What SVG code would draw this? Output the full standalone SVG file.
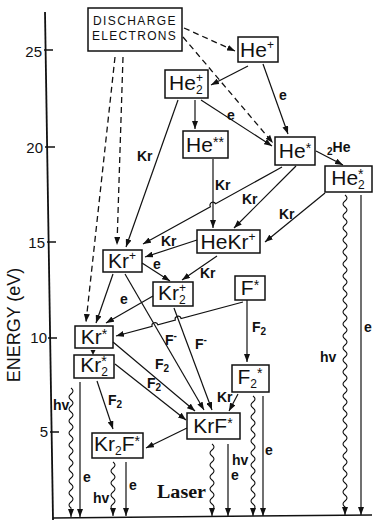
<svg xmlns="http://www.w3.org/2000/svg" width="375" height="520" viewBox="0 0 375 520">
<style>
.bx{fill:none;stroke:#111;stroke-width:1.5}
.n{font-family:"Liberation Sans",Arial,sans-serif;font-size:21px;fill:#111;text-anchor:middle}
.s{font-size:12px}
.a{font-size:14px}
.l{font-family:"Liberation Sans",Arial,sans-serif;font-size:14px;font-weight:bold;fill:#111}
.t{font-family:"Liberation Sans",Arial,sans-serif;font-size:15px;fill:#111;text-anchor:end}
.c{fill:none;stroke:#111;stroke-width:1.2;marker-end:url(#ah)}
.d{fill:none;stroke:#111;stroke-width:1.3;stroke-dasharray:6 4;marker-end:url(#ah)}
.w{fill:none;stroke:#111;stroke-width:1.1;marker-end:url(#ah)}
</style>
<defs>
<marker id="ah" markerUnits="userSpaceOnUse" markerWidth="8" markerHeight="6" refX="8" refY="3" orient="auto">
<path d="M0,0 L8,3 L0,6 z" fill="#111"/>
</marker>
</defs>

<g id="axis">
<path d="M45,12 L53,520" stroke="#111" stroke-width="1.8" fill="none"/>
<path d="M53,518 L372,515" stroke="#111" stroke-width="1.5" fill="none"/>
<path d="M44,50 H53 M45,147 H55 M47,242 H56 M48,338 H57 M50,432 H59" stroke="#111" stroke-width="1.5"/>
<text class="t" x="42" y="57">25</text>
<text class="t" x="43" y="153">20</text>
<text class="t" x="45" y="248">15</text>
<text class="t" x="47" y="343">10</text>
<text class="t" x="48" y="437">5</text>
<text font-family="Liberation Sans,Arial,sans-serif" font-size="18" fill="#111" text-anchor="middle" transform="translate(20,325) rotate(-90)">ENERGY (eV)</text>
</g>

<g id="connectors">
<path class="d" d="M184,28 L235,51"/>
<path class="d" d="M183,37 L273,143"/>
<path class="d" d="M115,57 L86,322"/>
<path class="d" d="M123,57 L117,245"/>
<path class="c" d="M248,66 L211,85"/>
<path class="c" d="M263,64 L288,134"/>
<path class="c" d="M195,100 L195,129"/>
<path class="c" d="M201,100 L272,146"/>
<path class="c" d="M316,151 L343,165"/>
<path class="c" d="M178,100 L126,247"/>
<path class="c" d="M213,159 L213,228"/>
<path class="c" d="M282,167 L215.6,203.7 A3,3 0 0 0 210.4,206.7 L143,244"/>
<path class="c" d="M296,166 L234,228"/>
<path class="c" d="M325,193 L265,242"/>
<path class="c" d="M197,240 L145,257"/>
<path class="c" d="M217,256 L182,280"/>
<path class="c" d="M142,263 L170,281"/>
<path class="c" d="M113,274 L96,323"/>
<path class="c" d="M153,296 L106,323"/>
<path class="c" d="M243,302 L181.1,318.5 A3,3 0 0 0 175.3,320.1 L157.9,324.8 A3,3 0 0 0 152.1,326.4 L116,336"/>
<path class="c" d="M125,274 L204,410"/>
<path class="c" d="M174,308 L212,410"/>
<path class="c" d="M113,342 L195,411"/>
<path class="c" d="M115,364 L186,420"/>
<path d="M90.5,350 L95.5,350 L93,355 z" fill="#111"/>
<path class="c" d="M97,381 L113,429"/>
<path class="c" d="M187,428 L146,448"/>
<path class="c" d="M247,300 L247,362"/>
<path class="c" d="M238,394 L229,411"/>
<path class="w" d="M71,388 q4,3 0,6 t0,6 t0,6 t0,6 t0,6 t0,6 t0,6 t0,6 t0,6 t0,6 t0,6 t0,6 t0,6 t0,6 t0,6 t0,6 t0,6 t0,6 t0,6 t0,6 v9"/>
<path class="c" d="M80,382 L80,517"/>
<path class="w" d="M113,462 q4,3 0,6 t0,6 t0,6 t0,6 t0,6 t0,6 t0,6 t0,6 v6"/>
<path class="c" d="M126,462 L126,516"/>
<path class="w" d="M212,444 q4,3 0,6 t0,6 t0,6 t0,6 t0,6 t0,6 t0,6 t0,6 t0,6 t0,6 t0,6 v6"/>
<path class="c" d="M228,444 L228,516"/>
<path class="w" d="M253,396 q4,3 0,6 t0,6 t0,6 t0,6 t0,6 t0,6 t0,6 t0,6 t0,6 t0,6 t0,6 t0,6 t0,6 t0,6 t0,6 t0,6 t0,6 t0,6 t0,6 v6"/>
<path class="c" d="M263,396 L263,516"/>
<path class="w" d="M345,195 q4,3 0,6 t0,6 t0,6 t0,6 t0,6 t0,6 t0,6 t0,6 t0,6 t0,6 t0,6 t0,6 t0,6 t0,6 t0,6 t0,6 t0,6 t0,6 t0,6 t0,6 t0,6 t0,6 t0,6 t0,6 t0,6 t0,6 t0,6 t0,6 t0,6 t0,6 t0,6 t0,6 t0,6 t0,6 t0,6 t0,6 t0,6 t0,6 t0,6 t0,6 t0,6 t0,6 t0,6 t0,6 t0,6 t0,6 t0,6 t0,6 t0,6 t0,6 t0,6 t0,6 v8"/>
<path class="c" d="M361,195 L361,515"/>

<text class="l" x="279" y="100">e</text>
<text class="l" x="227" y="120">e</text>
<text class="l" x="327" y="152"><tspan font-size="10" dy="3">2</tspan><tspan dy="-3">He</tspan></text>
<text class="l" x="137" y="161">Kr</text>
<text class="l" x="215" y="190">Kr</text>
<text class="l" x="242" y="204">Kr</text>
<text class="l" x="279" y="219">Kr</text>
<text class="l" x="161" y="246">Kr</text>
<text class="l" x="153" y="269">e</text>
<text class="l" x="200" y="278">Kr</text>
<text class="l" x="120" y="304">e</text>
<text class="l" x="165" y="345">F<tspan font-size="10" dy="-6">-</tspan></text>
<text class="l" x="195" y="349">F<tspan font-size="10" dy="-6">-</tspan></text>
<text class="l" x="155" y="369">F<tspan font-size="10" dy="3">2</tspan></text>
<text class="l" x="147" y="388">F<tspan font-size="10" dy="3">2</tspan></text>
<text class="l" x="252" y="332">F<tspan font-size="10" dy="3">2</tspan></text>
<text class="l" x="108" y="405">F<tspan font-size="10" dy="3">2</tspan></text>
<text class="l" x="217" y="402">Kr</text>
<text class="l" x="53" y="410">hv</text>
<text class="l" x="83" y="482">e</text>
<text class="l" x="93" y="503">hv</text>
<text class="l" x="129" y="490">e</text>
<text x="157" y="498" font-family="Liberation Serif,Times New Roman,serif" font-size="18" font-weight="bold" fill="#111" textLength="49" lengthAdjust="spacingAndGlyphs">Laser</text>
<text class="l" x="231" y="480">e</text>
<text class="l" x="232" y="465">hv</text>
<text class="l" x="265" y="455">e</text>
<text class="l" x="320" y="362">hv</text>
<text class="l" x="364" y="332">e</text>
</g>

<g id="discharge">
<rect class="bx" x="88" y="8" width="94" height="43"/>
<text font-family="Liberation Sans,Arial,sans-serif" font-size="12" letter-spacing="1.4" fill="#111" x="93" y="25">DISCHARGE</text>
<text font-family="Liberation Sans,Arial,sans-serif" font-size="12" letter-spacing="1.3" fill="#111" x="92" y="40">ELECTRONS</text>
</g>
<g id="He_ion"><rect class="bx" x="238" y="37" width="40" height="25"/><text class="n" x="257" y="57">He<tspan class="s" dy="-8">+</tspan></text></g>
<g id="He2_ion"><rect class="bx" x="165" y="70" width="43" height="28"/><text class="n" x="186" y="90">He<tspan class="s" dy="4">2</tspan><tspan class="s" dx="-6.7" dy="-12">+</tspan></text></g>
<g id="He_2star"><rect class="bx" x="183" y="131" width="45" height="27"/><text class="n" x="205" y="152">He<tspan class="a" dy="-5">**</tspan></text></g>
<g id="He_star"><rect class="bx" x="275" y="137" width="40" height="28"/><text class="n" x="295" y="158">He<tspan class="a" dy="-5">*</tspan></text></g>
<g id="He2_star"><rect class="bx" x="325" y="166" width="47" height="26"/><text class="n" x="348" y="185">He<tspan class="s" dy="4">2</tspan><tspan class="a" dx="-6.7" dy="-10">*</tspan></text></g>
<g id="HeKr_ion"><rect class="bx" x="197" y="230" width="63" height="23"/><text class="n" x="228" y="249">HeKr<tspan class="s" dy="-8">+</tspan></text></g>
<g id="Kr_ion"><rect class="bx" x="103" y="250" width="39" height="22"/><text class="n" x="122" y="268">Kr<tspan class="s" dy="-8">+</tspan></text></g>
<g id="Kr2_ion"><rect class="bx" x="153" y="282" width="40" height="24"/><text class="n" x="172" y="300">Kr<tspan class="s" dy="4">2</tspan><tspan class="s" dx="-6.7" dy="-12">+</tspan></text></g>
<g id="F_star"><rect class="bx" x="235" y="276" width="30" height="24"/><text class="n" x="250" y="295">F<tspan class="a" dy="-5">*</tspan></text></g>
<g id="Kr_star"><rect class="bx" x="75" y="326" width="38" height="22"/><text class="n" x="94" y="344">Kr<tspan class="a" dy="-5">*</tspan></text></g>
<g id="Kr2_star"><rect class="bx" x="74" y="355" width="40" height="23"/><text class="n" x="94" y="372">Kr<tspan class="s" dy="4">2</tspan><tspan class="a" dx="-6.7" dy="-10">*</tspan></text></g>
<g id="F2_star"><rect class="bx" x="232" y="365" width="37" height="27"/><text class="n" x="250" y="384">F<tspan class="s" dy="4">2</tspan><tspan class="a" dy="-10">*</tspan></text></g>
<g id="KrF_star"><rect class="bx" x="187" y="413" width="53" height="26"/><text class="n" x="213" y="433">KrF<tspan class="a" dy="-5">*</tspan></text></g>
<g id="Kr2F_star"><rect class="bx" x="92" y="433" width="51" height="25"/><text class="n" x="117" y="451">Kr<tspan class="s" dy="4">2</tspan><tspan dy="-4">F</tspan><tspan class="a" dy="-5">*</tspan></text></g>
</svg>
